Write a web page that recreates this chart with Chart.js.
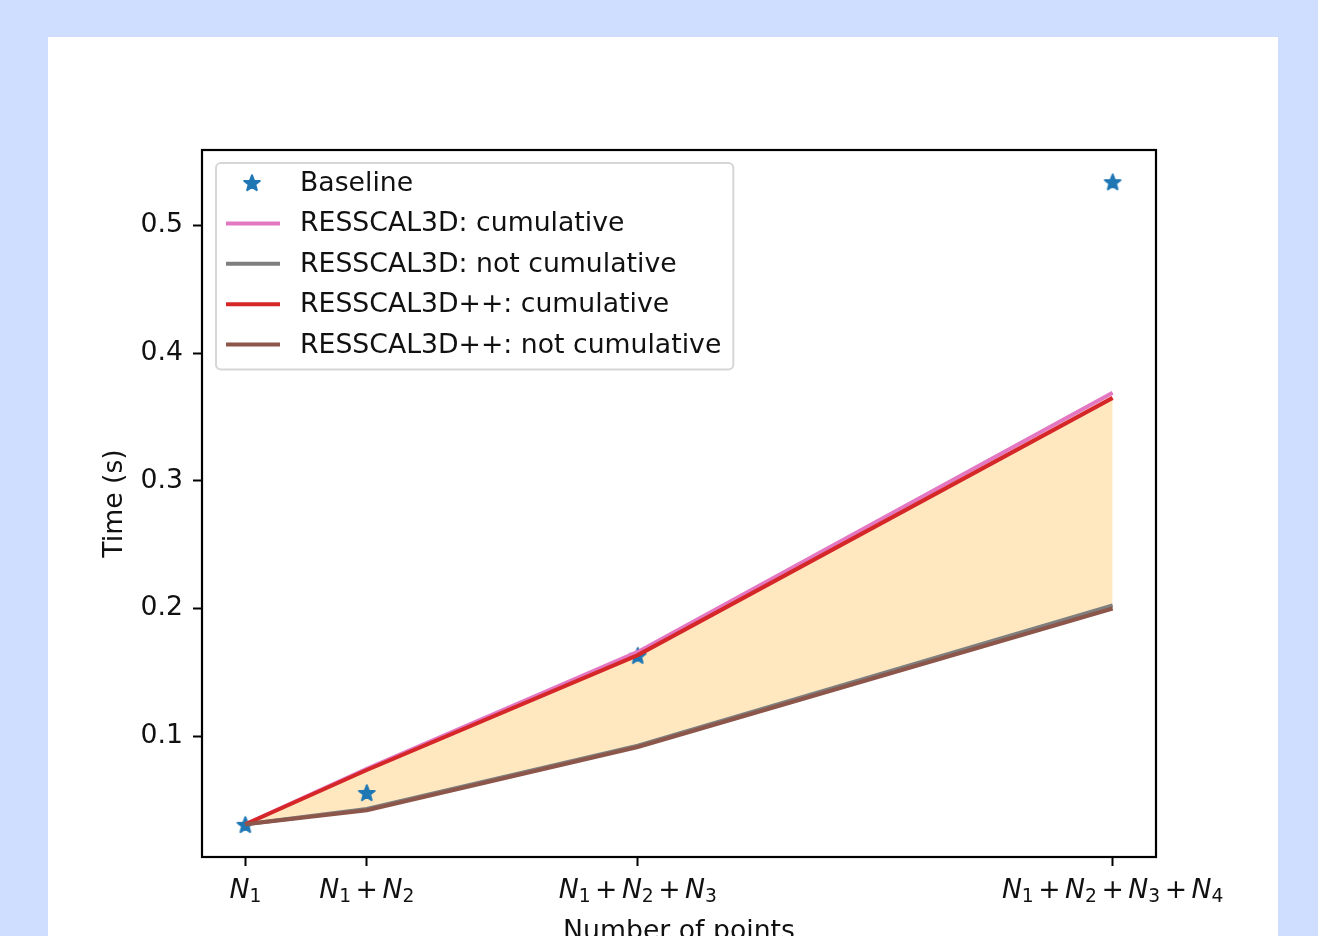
<!DOCTYPE html>
<html>
<head>
<meta charset="utf-8">
<script src="https://cdn.jsdelivr.net/npm/chart.js@4/dist/chart.umd.min.js"></script>
<style>
  body { margin: 0; background: #cfdeff; overflow: hidden; }
  #card { position: absolute; left: 48px; top: 37px; width: 1230px; height: 1000px; background: #fff; }
  #chart { position: absolute; left: 0; top: 0; }
</style>
</head>
<body>
<div id="card"></div>
<canvas id="chart" width="1318" height="936"></canvas>
<script>
// x positions of the four cumulative point sets, with their tick labels (N_i terms)
const xValues = [1, 1.28, 1.905, 3];
const xTickTerms = [[1], [1, 2], [1, 2, 3], [1, 2, 3, 4]];
const yTicks = [0.1, 0.2, 0.3, 0.4, 0.5];

const seriesLabels = [
  "Baseline",
  "RESSCAL3D: cumulative",
  "RESSCAL3D: not cumulative",
  "RESSCAL3D++: cumulative",
  "RESSCAL3D++: not cumulative"
];
const baseline = [0.0305, 0.0555, 0.163, 0.534];
const resCumul = [0.031, 0.0745, 0.166, 0.369];
const resNotCumul = [0.031, 0.043, 0.0925, 0.2025];
const resPPCumul = [0.031, 0.0735, 0.1635, 0.365];
const resPPNotCumul = [0.031, 0.042, 0.0915, 0.200];

const FONT = '"DejaVu Sans", sans-serif';
const FS = 26.7;

// filled 5 point star like matplotlib's '*' marker
function makeStar(color) {
  const c = document.createElement('canvas');
  c.width = 22; c.height = 22;
  const g = c.getContext('2d');
  g.beginPath();
  for (let i = 0; i < 10; i++) {
    const r = i % 2 === 0 ? 8.2 : 8.2 * 0.42;
    const a = -Math.PI / 2 + i * Math.PI / 5;
    const px = 11 + r * Math.cos(a), py = 11.5 + r * Math.sin(a);
    i === 0 ? g.moveTo(px, py) : g.lineTo(px, py);
  }
  g.closePath();
  g.fillStyle = color;
  g.fill();
  g.lineWidth = 2;
  g.lineJoin = 'round';
  g.strokeStyle = color;
  g.stroke();
  return c;
}
const star = makeStar('#1f77b4');

const pts = arr => arr.map((y, i) => ({ x: xValues[i], y: y }));

// matplotlib style 5% margins
const xSpan = xValues[xValues.length - 1] - xValues[0];
const allY = [].concat(baseline, resCumul, resNotCumul, resPPCumul, resPPNotCumul);
const yLo = Math.min(...allY), yHi = Math.max(...allY);
const ySpan = yHi - yLo;

function lineSet(label, data, color, order) {
  return {
    label: label, data: pts(data), borderColor: color, backgroundColor: color,
    borderWidth: 4, pointRadius: 0, tension: 0, fill: false, order: order
  };
}

const datasets = [
  {
    label: seriesLabels[0], data: pts(baseline), showLine: false,
    pointStyle: star, pointRadius: 10, borderColor: '#1f77b4', backgroundColor: '#1f77b4', order: 5
  },
  lineSet(seriesLabels[1], resCumul, '#e377c2', 4),
  lineSet(seriesLabels[2], resNotCumul, '#7f7f7f', 3),
  lineSet(seriesLabels[3], resPPCumul, '#d62728', 2),
  lineSet(seriesLabels[4], resPPNotCumul, '#8c564b', 1)
];
// shaded band between the two RESSCAL3D++ curves
datasets[3].fill = { target: 4, above: 'rgba(255,165,0,0.25)', below: 'rgba(255,165,0,0.25)' };

//frame, math tick labels, axis titles and legend
const decorPlugin = {
  id: 'decor',
  afterDatasetsDraw(chart) {
    const ctx = chart.ctx, a = chart.chartArea;
    ctx.save();
    ctx.strokeStyle = '#000';
    ctx.lineWidth = 2.2;
    ctx.strokeRect(a.left, a.top, a.right - a.left, a.bottom - a.top);
    ctx.restore();
  },
  afterDraw(chart) {
    const ctx = chart.ctx, a = chart.chartArea;
    const xs = chart.scales.x;
    ctx.save();
    ctx.fillStyle = '#111';
    ctx.textBaseline = 'alphabetic';

    // x tick labels: N_1 + N_2 + ...
    const nFont = 'italic ' + FS + 'px ' + FONT, subFont = (FS * 0.7) + 'px ' + FONT, plusFont = FS + 'px ' + FONT;
    const gap = 4.5;
    xTickTerms.forEach((terms, i) => {
      const parts = [];
      terms.forEach((t, j) => {
        if (j > 0) parts.push({ text: '+', font: plusFont, dy: 0, pad: gap });
        parts.push({ text: 'N', font: nFont, dy: 0, pad: 0 });
        parts.push({ text: String(t), font: subFont, dy: 4, pad: 0 });
      });
      let total = 0;
      parts.forEach(p => { ctx.font = p.font; p.w = ctx.measureText(p.text).width; total += p.w + 2 * p.pad; });
      let cx = xs.getPixelForValue(xValues[i]) - total / 2;
      parts.forEach(p => {
        ctx.font = p.font;
        ctx.fillText(p.text, cx + p.pad, 898 + p.dy);
        cx += p.w + 2 * p.pad;
      });
    });

    // axis titles
    ctx.font = FS + 'px ' + FONT;
    ctx.textAlign = 'center';
    ctx.fillText('Number of points', (a.left + a.right) / 2, 939);
    ctx.save();
    ctx.translate(122, (a.top + a.bottom) / 2);
    ctx.rotate(-Math.PI / 2);
    ctx.fillText('Time (s)', 0, 0);
    ctx.restore();

    // legend box
    ctx.textAlign = 'left';
    ctx.textBaseline = 'middle';
    const labels = chart.data.datasets.map(d => d.label);
    const textW = Math.max(...labels.map(t => ctx.measureText(t).width));
    const bx = a.left + 14, by = a.top + 13;
    const rowH = 40.4;
    const bw = 84 + textW + 12, bh = 20 + (labels.length - 1) * rowH + 25;
    ctx.beginPath();
    ctx.roundRect(bx, by, bw, bh, 5);
    ctx.fillStyle = 'rgba(255,255,255,0.8)';
    ctx.fill();
    ctx.strokeStyle = '#d6d6d6';
    ctx.lineWidth = 2;
    ctx.stroke();
    chart.data.datasets.forEach((d, i) => {
      const ry = by + 20 + i * rowH;
      if (d.showLine === false) {
        ctx.drawImage(star, bx + 36 - 11, ry - 11);
      } else {
        ctx.beginPath();
        ctx.moveTo(bx + 10, ry);
        ctx.lineTo(bx + 64, ry);
        ctx.strokeStyle = d.borderColor;
        ctx.lineWidth = 4;
        ctx.stroke();
      }
      ctx.fillStyle = '#111';
      ctx.fillText(d.label, bx + 84, ry + 1);
    });
    ctx.restore();
  }
};

const tickGrid = { drawOnChartArea: false, drawTicks: true, tickLength: 9, tickWidth: 2, tickColor: '#000' };

new Chart(document.getElementById('chart'), {
  type: 'line',
  data: { datasets: datasets },
  options: {
    responsive: false,
    devicePixelRatio: 1,
    animation: false,
    layout: { padding: { left: 102, right: 162, top: 150, bottom: 19 } },
    plugins: {
      legend: { display: false },
      tooltip: { enabled: false },
      filler: { drawTime: 'beforeDatasetsDraw' }
    },
    scales: {
      x: {
        type: 'linear',
        min: xValues[0] - 0.05 * xSpan,
        max: xValues[xValues.length - 1] + 0.05 * xSpan,
        afterBuildTicks: s => { s.ticks = xValues.map(v => ({ value: v })); },
        afterFit: s => { s.height = 60; },
        ticks: { display: false },
        grid: tickGrid,
        border: { display: false }
      },
      y: {
        type: 'linear',
        min: yLo - 0.05 * ySpan,
        max: yHi + 0.05 * ySpan,
        afterBuildTicks: s => { s.ticks = yTicks.map(v => ({ value: v })); },
        afterFit: s => { s.width = 100; },
        ticks: {
          color: '#111',
          padding: 10,
          font: { family: FONT, size: FS },
          callback: v => v.toFixed(1)
        },
        grid: tickGrid,
        border: { display: false }
      }
    }
  },
  plugins: [decorPlugin]
});
</script>
</body>
</html>
